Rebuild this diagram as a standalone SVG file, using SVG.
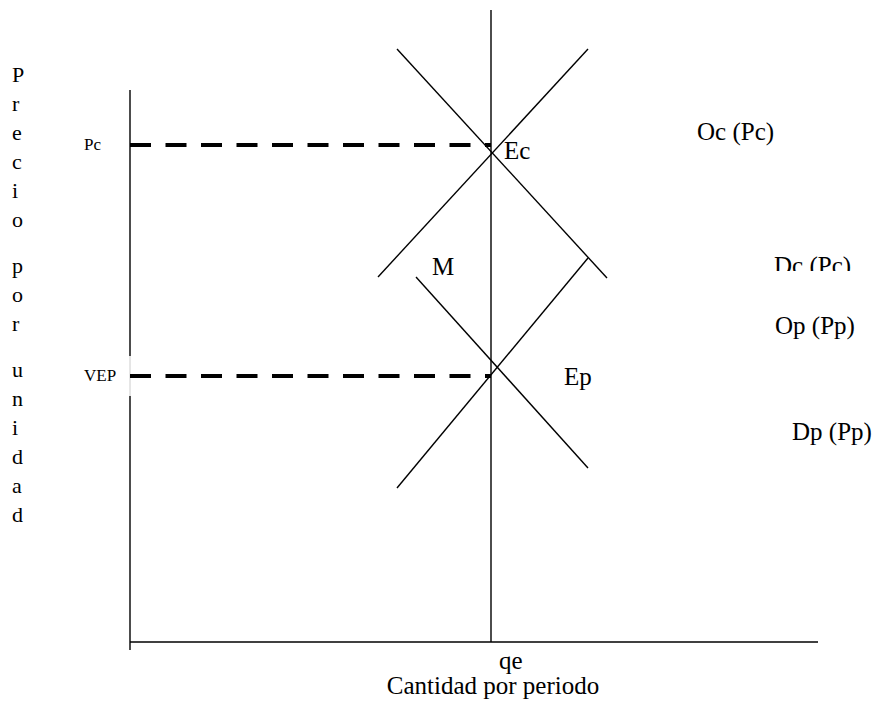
<svg xmlns="http://www.w3.org/2000/svg" width="876" height="707" viewBox="0 0 876 707">
<style>
.ln{stroke:#000;stroke-width:1.4;fill:none}
.dash{stroke:#000;stroke-width:4;stroke-dasharray:21 14.5;fill:none}
.t{font-family:"Liberation Serif","Times New Roman",serif;fill:#000}
.lbl{font-size:25px}
.sm{font-size:17px}
.v{font-size:22px}
</style>
<defs>
<clipPath id="clipDc"><rect x="700" y="240" width="176" height="31"/></clipPath>
</defs>
<rect width="876" height="707" fill="#fff"/>
<g id="axes">
<line class="ln" x1="130" y1="90" x2="130" y2="356"/>
<line x1="130" y1="356" x2="130" y2="396" stroke="#ccc" stroke-width="1"/>
<line class="ln" x1="130" y1="396" x2="130" y2="650"/>
<line class="ln" x1="130" y1="642" x2="818" y2="642"/>
</g>
<g id="connectors">
<line id="qe-line" class="ln" x1="491" y1="10" x2="491" y2="642"/>
<line id="Oc" class="ln" x1="378" y1="277" x2="588" y2="49"/>
<line id="Dc" class="ln" x1="397" y1="49" x2="607" y2="278"/>
<line id="Op" class="ln" x1="397" y1="488" x2="588" y2="258"/>
<line id="Dp" class="ln" x1="416" y1="277" x2="588" y2="468"/>
<line id="Pc-dash" class="dash" x1="130" y1="145" x2="491" y2="145"/>
<line id="VEP-dash" class="dash" x1="130" y1="376" x2="491" y2="376"/>
</g>
<g id="label-Pc"><text class="t sm" x="84" y="150">Pc</text></g>
<g id="label-VEP"><text class="t sm" x="84" y="381">VEP</text></g>
<g id="label-Ec"><text class="t lbl" x="504" y="159">Ec</text></g>
<g id="label-M"><text class="t lbl" x="432" y="275">M</text></g>
<g id="label-Ep"><text class="t lbl" x="564" y="385">Ep</text></g>
<g id="label-Oc"><text class="t lbl" x="697" y="140">Oc (Pc)</text></g>
<g id="label-Dc" clip-path="url(#clipDc)"><text class="t lbl" x="774" y="274">Dc (Pc)</text></g>
<g id="label-Op"><text class="t lbl" x="775" y="334">Op (Pp)</text></g>
<g id="label-Dp"><text class="t lbl" x="792" y="440">Dp (Pp)</text></g>
<g id="label-qe"><text class="t lbl" x="499" y="669">qe</text></g>
<g id="label-x"><text class="t lbl" x="493" y="694" text-anchor="middle">Cantidad por periodo</text></g>
<g id="label-y" class="t v">
<text x="12" y="82">P</text>
<text x="12" y="111">r</text>
<text x="12" y="140">e</text>
<text x="12" y="169">c</text>
<text x="12" y="198">i</text>
<text x="12" y="227">o</text>
<text x="12" y="273">p</text>
<text x="12" y="302">o</text>
<text x="12" y="331">r</text>
<text x="12" y="377">u</text>
<text x="12" y="406">n</text>
<text x="12" y="435">i</text>
<text x="12" y="464">d</text>
<text x="12" y="493">a</text>
<text x="12" y="522">d</text>
</g>
</svg>
